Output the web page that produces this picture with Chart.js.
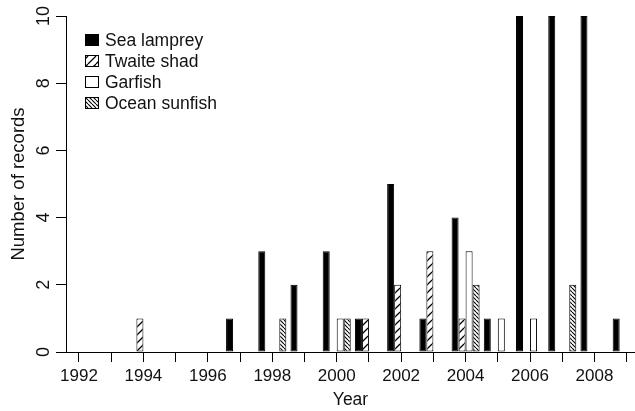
<!DOCTYPE html>
<html>
<head>
<meta charset="utf-8">
<script src="https://cdn.jsdelivr.net/npm/chart.js@4.4.1/dist/chart.umd.min.js"></script>
<style>
  html, body { margin: 0; padding: 0; background: #fff; }
  #wrap { width: 635px; height: 411px; }
</style>
</head>
<body>
<div id="wrap"><canvas id="c" width="635" height="411"></canvas></div>
<script>
// Records of rare fish per year
const years = [1992, 1993, 1994, 1995, 1996, 1997, 1998, 1999, 2000,
               2001, 2002, 2003, 2004, 2005, 2006, 2007, 2008, 2009];
const seaLamprey   = [0, 0, 0, 0, 0, 1, 3, 2, 3, 1, 5, 1, 4, 1, 10, 10, 10, 1];
const twaiteShad   = [0, 0, 1, 0, 0, 0, 0, 0, 0, 1, 2, 3, 1, 0, 0, 0, 0, 0];
const garfish      = [0, 0, 0, 0, 0, 0, 0, 0, 1, 0, 0, 0, 3, 1, 1, 0, 0, 0];
const oceanSunfish = [0, 0, 0, 0, 0, 0, 1, 0, 1, 0, 0, 0, 2, 0, 0, 2, 0, 0];
const seriesNames  = ['Sea lamprey', 'Twaite shad', 'Garfish', 'Ocean sunfish'];
const yTicks = [0, 2, 4, 6, 8, 10];

const FONT = '"Liberation Sans", Arial, Helvetica, sans-serif';
const INK = '#111';

// diagonal hatch fills
function hatch(period, forward, lineWidth) {
  const c = document.createElement('canvas');
  c.width = period; c.height = period;
  const g = c.getContext('2d');
  g.fillStyle = '#fff';
  g.fillRect(0, 0, period, period);
  g.strokeStyle = '#000';
  g.lineWidth = lineWidth;
  g.beginPath();
  for (let k = -1; k <= 1; k++) {
    if (forward) {            // "/"
      g.moveTo(k * period, period);
      g.lineTo(k * period + period, 0);
    } else {                  // "\"
      g.moveTo(k * period, 0);
      g.lineTo(k * period + period, period);
    }
  }
  g.stroke();
  return document.getElementById('c').getContext('2d').createPattern(c, 'repeat');
}

const fills = ['#000', hatch(8, true, 1.3), '#fff', hatch(4, false, 1.1)];
const seriesValues = [seaLamprey, twaiteShad, garfish, oceanSunfish];

const datasets = seriesValues.map((vals, i) => ({
  label: seriesNames[i],
  data: years.map((yr, j) => ({ x: yr, y: vals[j] === 0 ? null : vals[j] })),
  backgroundColor: fills[i],
  borderColor: '#000',
  borderWidth: 1,
  borderSkipped: false,
  categoryPercentage: 0.87,
  barPercentage: 1.0
}));

// legend and rotated y tick labels
const extras = {
  id: 'extras',
  afterDraw(chart) {
    const ctx = chart.ctx;
    const area = chart.chartArea;
    const ys = chart.scales.y;
    ctx.save();
    ctx.fillStyle = INK;
    ctx.font = '18px ' + FONT;
    ctx.textAlign = 'center';
    ctx.textBaseline = 'middle';
    yTicks.forEach(v => {
      const py = ys.getPixelForValue(v);
      ctx.save();
      ctx.translate(area.left - 22, py);
      ctx.rotate(-Math.PI / 2);
      ctx.fillText(String(v), 0, 0);
      ctx.restore();
    });
    // legend
    const lx = area.left + 19;
    const ly0 = area.top + 24;
    const rowH = 21;
    ctx.font = '17.5px ' + FONT;
    ctx.textAlign = 'left';
    chart.data.datasets.forEach((ds, i) => {
      const cy = ly0 + i * rowH;
      ctx.fillStyle = ds.backgroundColor;
      ctx.fillRect(lx, cy - 6, 14, 12);
      ctx.strokeStyle = '#000';
      ctx.lineWidth = 1;
      ctx.strokeRect(lx + 0.5, cy - 5.5, 13, 11);
      ctx.fillStyle = INK;
      ctx.fillText(ds.label, lx + 20, cy + 1);
    });
    ctx.restore();
  }
};

new Chart(document.getElementById('c'), {
  type: 'bar',
  data: { datasets },
  options: {
    responsive: false,
    animation: false,
    devicePixelRatio: 1,
    layout: { padding: { top: 16, right: 0, left: 0, bottom: 0 } },
    plugins: { legend: { display: false }, tooltip: { enabled: false } },
    scales: {
      x: {
        type: 'linear',
        offset: false,
        min: 1991.597,
        max: 2009.258,
        afterBuildTicks: s => { s.ticks = years.map(v => ({ value: v })); },
        afterFit: s => { s.height = 59; },
        ticks: {
          autoSkip: false,
          maxRotation: 0,
          minRotation: 0,
          padding: 4,
          color: INK,
          font: { family: FONT, size: 17 },
          callback: v => (v % 2 === 0 ? String(v) : '')
        },
        grid: { offset: false, drawOnChartArea: false, drawTicks: true, tickLength: 10, color: '#000', lineWidth: 1 },
        border: { display: true, color: '#000', width: 1 },
        title: { display: true, text: 'Year', color: INK, font: { family: FONT, size: 17.5 }, padding: { top: 0, bottom: 0 } }
      },
      y: {
        type: 'linear',
        min: 0,
        max: 10,
        afterBuildTicks: s => { s.ticks = yTicks.map(v => ({ value: v })); },
        afterFit: s => { s.width = 66; },
        ticks: { display: false },
        grid: { drawOnChartArea: false, drawTicks: true, tickLength: 10, color: '#000', lineWidth: 1 },
        border: { display: true, color: '#000', width: 1 },
        title: { display: true, text: 'Number of records', color: INK, font: { family: FONT, size: 18.5 }, padding: { top: 8, bottom: 0 } }
      }
    }
  },
  plugins: [extras]
});
</script>
</body>
</html>
